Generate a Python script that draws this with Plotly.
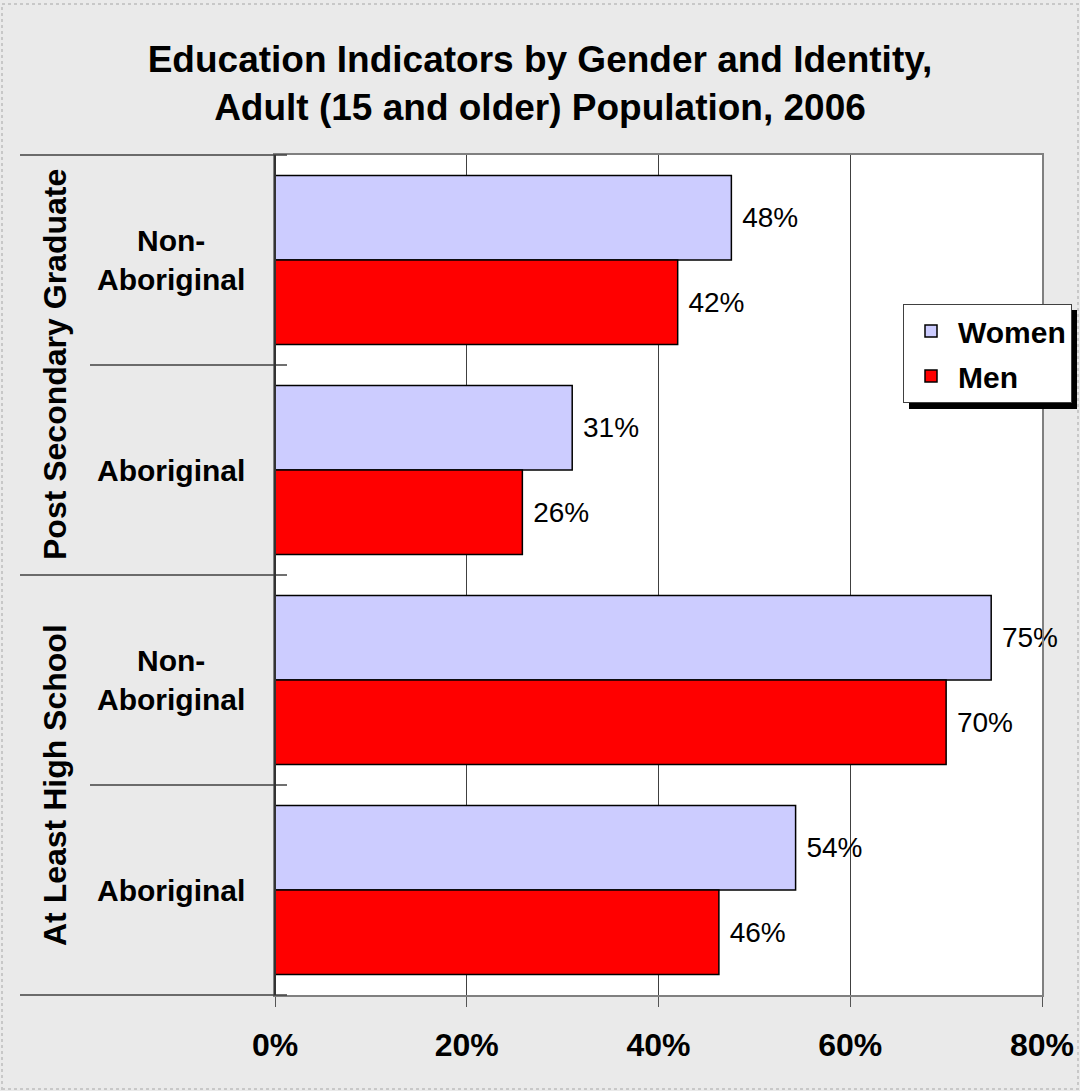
import plotly.graph_objects as go

# ---- data ----
groups = ["Post Secondary Graduate", "Post Secondary Graduate", "At Least High School", "At Least High School"]
identities = ["Non-Aboriginal", "Aboriginal", "Non-Aboriginal", "Aboriginal"]
women = [47.6, 31.0, 74.7, 54.3]
men = [42.0, 25.8, 70.0, 46.3]
x_ticks = [0, 20, 40, 60, 80]
x_tick_labels = ["0%", "20%", "40%", "60%", "80%"]
title_lines = ["Education Indicators by Gender and Identity,", "Adult (15 and older) Population, 2006"]

cats = [g + "|" + i for g, i in zip(groups, identities)]

# ---- layout constants (pixels) ----
W, H = 1080, 1091
L, R, T, B = 275, 38, 155, 96
PW, PH = W - L - R, H - T - B
FONT = "Liberation Sans, Arial, sans-serif"


def px(xpix):
    return (xpix - L) / PW


def py(ypix):
    return (H - B - ypix) / PH


fig = go.Figure()
fig.add_trace(go.Bar(
    y=cats, x=women, orientation="h", name="Women",
    marker=dict(color="#CCCCFF", line=dict(color="black", width=1.5)),
    texttemplate="\u00a0%{x:.0f}%", textposition="outside", cliponaxis=False,
    textfont=dict(family=FONT, size=28, color="black"),
    legendgroup="w", hoverinfo="skip",
))
fig.add_trace(go.Bar(
    y=cats, x=men, orientation="h", name="Men",
    marker=dict(color="#FF0000", line=dict(color="black", width=1.5)),
    texttemplate="\u00a0%{x:.0f}%", textposition="outside", cliponaxis=False,
    textfont=dict(family=FONT, size=28, color="black"),
    legendgroup="m", hoverinfo="skip",
))

shapes = []
# outer dotted border
shapes.append(dict(type="rect", xref="paper", yref="paper",
                   x0=px(2), x1=px(W - 2), y0=py(H - 2), y1=py(4),
                   line=dict(color="#C8C8C8", width=2, dash="dot"), layer="below"))
# divider lines on the left (category boundaries)
for ypix, xstart in [(155, 20), (365, 90), (575, 20), (785, 90), (995, 20)]:
    shapes.append(dict(type="line", xref="paper", yref="paper",
                       x0=px(xstart), x1=px(287), y0=py(ypix), y1=py(ypix),
                       line=dict(color="#404040", width=1.5)))
# left axis line
shapes.append(dict(type="line", xref="paper", yref="paper",
                   x0=0, x1=0, y0=0, y1=1, line=dict(color="#333333", width=2)))
# legend shadow
shapes.append(dict(type="rect", xref="paper", yref="paper",
                   x0=px(909), x1=px(1077), y0=py(409), y1=py(310),
                   fillcolor="black", line=dict(width=0), layer="above"))

annotations = []
for c, ident in zip(cats, identities):
    label = "Non-<br>Aboriginal" if ident == "Non-Aboriginal" else ident
    annotations.append(dict(x=px(171), xref="paper", y=c, yref="y", text=label,
                            showarrow=False, xanchor="center", yanchor="middle", align="center",
                            font=dict(family=FONT, size=30, color="black", weight="bold")))
seen = []
for g in groups:
    if g in seen:
        continue
    seen.append(g)
    idx = [i for i, gg in enumerate(groups) if gg == g]
    annotations.append(dict(x=px(55), xref="paper", y=(1 - (idx[0] + idx[-1] + 1) / 2 / len(cats)),
                            yref="paper", text=g, textangle=-90, showarrow=False,
                            xanchor="center", yanchor="middle",
                            font=dict(family=FONT, size=32, color="black", weight="bold")))

fig.update_layout(
    width=W, height=H,
    margin=dict(l=L, r=R, t=T, b=B, pad=0, autoexpand=False),
    paper_bgcolor="#EAEAEA", plot_bgcolor="white",
    barmode="group", bargap=0.195, bargroupgap=0,
    title=dict(text="<br>".join(title_lines), x=0.5, xref="container", xanchor="center",
               y=1 - 72 / H, yanchor="middle",
               font=dict(family=FONT, size=37, color="black", weight="bold")),
    font=dict(family=FONT, color="black"),
    showlegend=True,
    legend=dict(x=903 / W, y=1 - 304 / H, xref="container", yref="container",
                xanchor="left", yanchor="top",
                bgcolor="white", bordercolor="#404040", borderwidth=1,
                font=dict(family=FONT, size=30, color="black", weight="bold"),
                traceorder="grouped", tracegroupgap=3, itemwidth=44),
    xaxis=dict(range=[0, 80], tickvals=x_ticks, ticktext=x_tick_labels,
               showgrid=True, gridcolor="#404040", gridwidth=1,
               showline=True, linecolor="#808080", linewidth=2, mirror=True,
               ticks="outside", ticklen=10, tickcolor="#555555",
               ticklabelstandoff=11, automargin=False,
               tickfont=dict(family=FONT, size=32, color="black", weight="bold"),
               zeroline=False, fixedrange=True),
    yaxis=dict(categoryorder="array", categoryarray=cats, range=[3.5, -0.5],
               showticklabels=False, showgrid=False, showline=True,
               linecolor="#808080", linewidth=2, mirror=True, ticks="",
               automargin=False, zeroline=False, fixedrange=True),
    shapes=shapes, annotations=annotations,
)

fig.write_html("out.html", config={"displayModeBar": False},
               post_script="document.body.style.margin='0px';")
